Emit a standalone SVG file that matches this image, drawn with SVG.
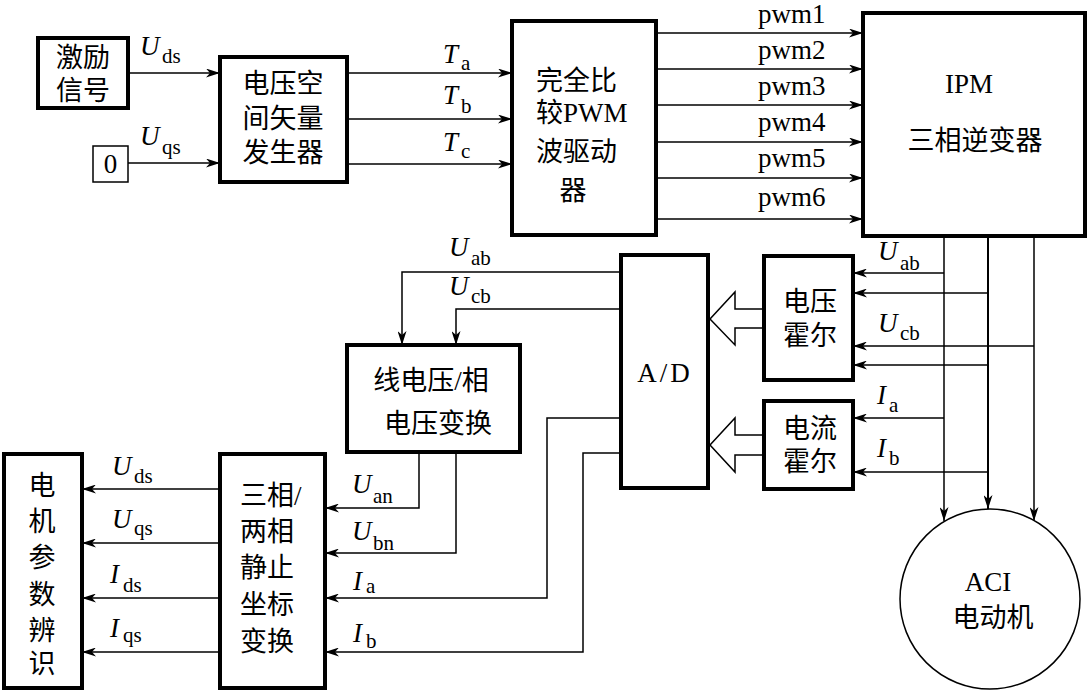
<svg xmlns="http://www.w3.org/2000/svg" width="1088" height="691" viewBox="0 0 1088 691">
<defs>
<style>
.box{fill:#fff;stroke:#000;stroke-width:4}
.thin{fill:#fff;stroke:#000;stroke-width:1.5}
.ln{fill:none;stroke:#000;stroke-width:1.5}
.cj{font-family:"Liberation Serif","Noto Sans CJK SC",serif;font-size:27px;fill:#000}
.lt{font-family:"Liberation Serif",serif;font-size:27px;fill:#000}
.cap{font-family:"Liberation Serif",serif;font-style:italic;font-size:27px;fill:#000}
.sub{font-family:"Liberation Serif",serif;font-size:21px;fill:#000}
.mid{text-anchor:middle}
</style>
<marker id="ah" markerUnits="userSpaceOnUse" markerWidth="15" markerHeight="9" refX="14" refY="4.5" orient="auto">
<path d="M0,0 L14,4.5 L0,9 L4,4.5 z" fill="#000"/>
</marker>
</defs>
<rect width="1088" height="691" fill="#fff"/>

<g id="connectors">
<line class="ln" x1="128" y1="73" x2="220" y2="73" marker-end="url(#ah)"/>
<line class="ln" x1="128" y1="163" x2="220" y2="163" marker-end="url(#ah)"/>
<line class="ln" x1="347" y1="73" x2="512" y2="73" marker-end="url(#ah)"/>
<line class="ln" x1="347" y1="119" x2="512" y2="119" marker-end="url(#ah)"/>
<line class="ln" x1="347" y1="164" x2="512" y2="164" marker-end="url(#ah)"/>
<line class="ln" x1="656" y1="33" x2="863" y2="33" marker-end="url(#ah)"/>
<line class="ln" x1="656" y1="69" x2="863" y2="69" marker-end="url(#ah)"/>
<line class="ln" x1="656" y1="105" x2="863" y2="105" marker-end="url(#ah)"/>
<line class="ln" x1="656" y1="142" x2="863" y2="142" marker-end="url(#ah)"/>
<line class="ln" x1="656" y1="178" x2="863" y2="178" marker-end="url(#ah)"/>
<line class="ln" x1="656" y1="219" x2="863" y2="219" marker-end="url(#ah)"/>
<line class="ln" x1="944" y1="236" x2="944" y2="521" marker-end="url(#ah)"/>
<line class="ln" x1="988" y1="236" x2="988" y2="509" marker-end="url(#ah)" style="stroke-width:2"/>
<line class="ln" x1="1034" y1="236" x2="1034" y2="521" marker-end="url(#ah)"/>
<line class="ln" x1="944" y1="273" x2="853" y2="273" marker-end="url(#ah)"/>
<line class="ln" x1="988" y1="293" x2="853" y2="293" marker-end="url(#ah)"/>
<line class="ln" x1="1034" y1="346" x2="853" y2="346" marker-end="url(#ah)"/>
<line class="ln" x1="988" y1="365" x2="853" y2="365" marker-end="url(#ah)"/>
<line class="ln" x1="944" y1="418" x2="853" y2="418" marker-end="url(#ah)"/>
<line class="ln" x1="988" y1="472" x2="853" y2="472" marker-end="url(#ah)"/>
<polygon class="thin" points="764,309 735,309 735,292 710,319 735,345 735,328 764,328"/>
<polygon class="thin" points="764,435 735,435 735,418 710,445 735,472 735,455 764,455"/>
<polyline class="ln" points="621,272 402,272 402,345" marker-end="url(#ah)"/>
<polyline class="ln" points="621,309 456,309 456,345" marker-end="url(#ah)"/>
<polyline class="ln" points="419,452 419,508 325,508" marker-end="url(#ah)"/>
<polyline class="ln" points="456,452 456,553 325,553" marker-end="url(#ah)"/>
<polyline class="ln" points="621,418 547,418 547,598 325,598" marker-end="url(#ah)"/>
<polyline class="ln" points="621,453 583,453 583,652 325,652" marker-end="url(#ah)"/>
<line class="ln" x1="220" y1="489" x2="82" y2="489" marker-end="url(#ah)"/>
<line class="ln" x1="220" y1="543" x2="82" y2="543" marker-end="url(#ah)"/>
<line class="ln" x1="220" y1="598" x2="82" y2="598" marker-end="url(#ah)"/>
<line class="ln" x1="220" y1="652" x2="82" y2="652" marker-end="url(#ah)"/>
</g>

<g id="labels">
<text class="cap" x="140" y="55">U</text><text class="sub" x="162" y="63">ds</text>
<text class="cap" x="140" y="145">U</text><text class="sub" x="162" y="154">qs</text>
<text class="cap" x="443" y="63">T</text><text class="sub" x="461" y="70">a</text>
<text class="cap" x="443" y="104">T</text><text class="sub" x="461" y="113">b</text>
<text class="cap" x="443" y="151">T</text><text class="sub" x="461" y="158">c</text>
<text class="lt" x="758" y="23">pwm1</text>
<text class="lt" x="758" y="59">pwm2</text>
<text class="lt" x="758" y="95">pwm3</text>
<text class="lt" x="758" y="131">pwm4</text>
<text class="lt" x="758" y="167">pwm5</text>
<text class="lt" x="758" y="206">pwm6</text>
<text class="cap" x="449" y="256">U</text><text class="sub" x="471" y="265">ab</text>
<text class="cap" x="449" y="295">U</text><text class="sub" x="471" y="303">cb</text>
<text class="cap" x="878" y="260">U</text><text class="sub" x="900" y="270">ab</text>
<text class="cap" x="878" y="332">U</text><text class="sub" x="900" y="340">cb</text>
<text class="cap" x="877" y="404">I</text><text class="sub" x="889" y="412">a</text>
<text class="cap" x="877" y="457">I</text><text class="sub" x="889" y="465">b</text>
<text class="cap" x="352" y="493">U</text><text class="sub" x="373" y="503">an</text>
<text class="cap" x="352" y="540">U</text><text class="sub" x="373" y="550">bn</text>
<text class="cap" x="353" y="590">I</text><text class="sub" x="366" y="593">a</text>
<text class="cap" x="353" y="642">I</text><text class="sub" x="366" y="648">b</text>
<text class="cap" x="112" y="475">U</text><text class="sub" x="134" y="483">ds</text>
<text class="cap" x="112" y="528">U</text><text class="sub" x="134" y="535">qs</text>
<text class="cap" x="110" y="583">I</text><text class="sub" x="123" y="592">ds</text>
<text class="cap" x="110" y="637">I</text><text class="sub" x="123" y="642">qs</text>
</g>

<g id="n_excite">
<rect class="box" x="38" y="38" width="90" height="70"/>
<text class="cj mid" x="83" y="67">激励</text>
<text class="cj mid" x="83" y="100">信号</text>
</g>
<g id="n_zero">
<rect class="thin" x="93" y="146" width="35" height="36"/>
<text class="lt mid" x="110.5" y="173">0</text>
</g>
<g id="n_svg">
<rect class="box" x="220" y="57" width="127" height="125"/>
<text class="cj mid" x="283" y="93">电压空</text>
<text class="cj mid" x="283" y="128">间矢量</text>
<text class="cj mid" x="283" y="162">发生器</text>
</g>
<g id="n_pwm">
<rect class="box" x="512" y="21" width="144" height="214"/>
<text class="cj" x="536" y="90">完全比</text>
<text class="cj" x="536" y="122">较PWM</text>
<text class="cj" x="536" y="161">波驱动</text>
<text class="cj mid" x="573" y="200">器</text>
</g>
<g id="n_ipm">
<rect class="box" x="863" y="13" width="222" height="223"/>
<text class="lt mid" x="969" y="93">IPM</text>
<text class="cj mid" x="975" y="150">三相逆变器</text>
</g>
<g id="n_ad">
<rect class="box" x="621" y="255" width="87" height="233"/>
<text class="lt mid" x="665" y="382" style="letter-spacing:3px">A/D</text>
</g>
<g id="n_vhall">
<rect class="box" x="764" y="256" width="89" height="124"/>
<text class="cj mid" x="810" y="311">电压</text>
<text class="cj mid" x="810" y="345">霍尔</text>
</g>
<g id="n_ihall">
<rect class="box" x="764" y="401" width="89" height="88"/>
<text class="cj mid" x="810" y="438">电流</text>
<text class="cj mid" x="810" y="471">霍尔</text>
</g>
<g id="n_conv">
<rect class="box" x="347" y="345" width="173" height="107"/>
<text class="cj mid" x="431" y="390">线电压/相</text>
<text class="cj mid" x="438" y="433">电压变换</text>
</g>
<g id="n_clarke">
<rect class="box" x="220" y="454" width="105" height="234"/>
<text class="cj" x="240" y="505">三相/</text>
<text class="cj" x="240" y="541">两相</text>
<text class="cj" x="240" y="577">静止</text>
<text class="cj" x="240" y="614">坐标</text>
<text class="cj" x="240" y="651">变换</text>
</g>
<g id="n_param">
<rect class="box" x="4" y="454" width="78" height="234"/>
<text class="cj mid" x="42" y="495">电</text>
<text class="cj mid" x="42" y="531">机</text>
<text class="cj mid" x="42" y="567">参</text>
<text class="cj mid" x="42" y="604">数</text>
<text class="cj mid" x="42" y="640">辨</text>
<text class="cj mid" x="42" y="673">识</text>
</g>
<g id="n_motor">
<circle class="thin" cx="990" cy="599" r="90"/>
<text class="lt mid" x="988" y="591">ACI</text>
<text class="cj mid" x="993" y="627">电动机</text>
</g>
</svg>
